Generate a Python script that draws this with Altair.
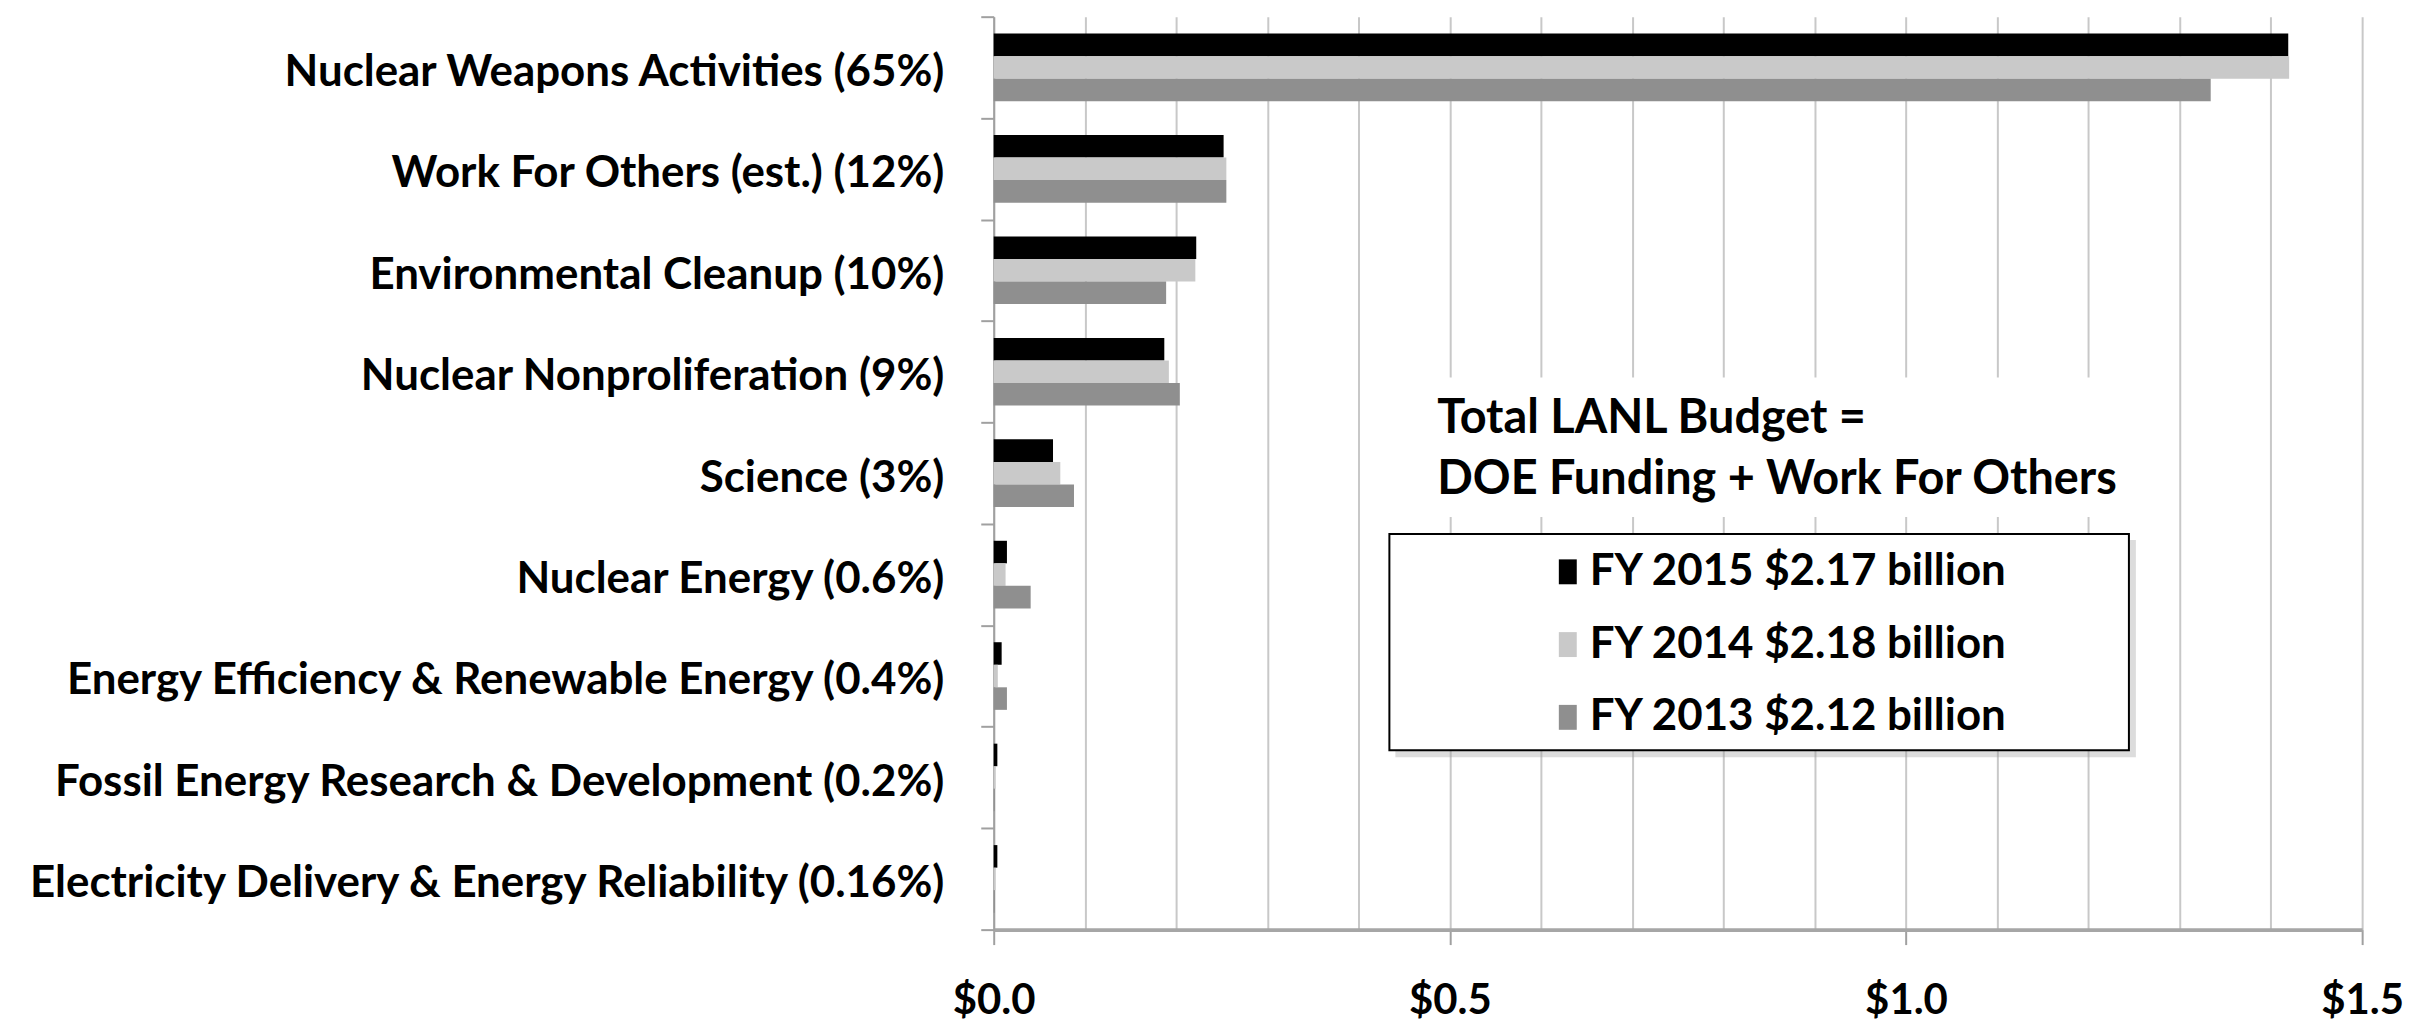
import altair as alt
import pandas as pd

categories = [
    "Nuclear Weapons Activities (65%)",
    "Work For Others (est.) (12%)\u00a0",
    "Environmental Cleanup (10%)",
    "Nuclear Nonproliferation (9%)",
    "Science (3%)",
    "Nuclear Energy (0.6%)",
    "Energy Efficiency & Renewable Energy (0.4%)",
    "Fossil Energy Research & Development (0.2%)",
    "Electricity Delivery & Energy Reliability (0.16%)",
]
series_names = ["FY 2015 $2.17 billion", "FY 2014 $2.18 billion", "FY 2013 $2.12 billion"]
fy2015 = [1.419, 0.252, 0.222, 0.187, 0.065, 0.0145, 0.0087, 0.004, 0.004]
fy2014 = [1.420, 0.255, 0.221, 0.192, 0.073, 0.013, 0.0045, 0.002, 0.002]
fy2013 = [1.334, 0.255, 0.189, 0.204, 0.088, 0.0405, 0.0145, 0.0012, 0.0012]
series_colors = ["#000000", "#c9c9c9", "#8f8f8f"]
grid_values = [round(i * 0.1, 1) for i in range(16)]
title_lines = ["Total LANL Budget =", "DOE Funding + Work For Others"]

FONT = "Lato, sans-serif"

rows = []
for name, vals in zip(series_names, [fy2015, fy2014, fy2013]):
    for c, v in zip(categories, vals):
        rows.append({"category": c, "series": name, "value": v})
df = pd.DataFrame(rows)

W, H = 1373, 916

bars = alt.Chart(df).mark_bar().encode(
    y=alt.Y(
        "category:N",
        sort=categories,
        title=None,
        scale=alt.Scale(paddingInner=0, paddingOuter=0),
        axis=alt.Axis(
            tickBand="extent",
            labelFont=FONT,
            labelFontSize=44,
            labelFontWeight="bold",
            labelColor="#000000",
            labelLimit=0,
            labelPadding=37,
            labelOffset=5,
            tickSize=13,
            tickWidth=2,
            tickColor="#a0a0a0",
            domainColor="#a0a0a0",
            domainWidth=2,
            grid=False,
        ),
    ),
    x=alt.X(
        "value:Q",
        title=None,
        scale=alt.Scale(domain=[0, 1.5], nice=False, zero=True),
        axis=alt.Axis(
            values=grid_values,
            labelExpr="abs(datum.value*2 - round(datum.value*2)) < 0.001 ? '$' + format(datum.value, '.1f') : ''",
            labelFont=FONT,
            labelFontSize=42,
            labelFontWeight="bold",
            labelColor="#000000",
            labelPadding=36,
            labelFlush=False,
            labelOverlap=False,
            tickSize=15,
            tickWidth=2,
            tickColor="#a0a0a0",
            tickOpacity={"condition": {"test": "abs(datum.value*2 - round(datum.value*2)) < 0.001", "value": 1}, "value": 0},
            domainColor="#a6a6a6",
            domainWidth=4,
            grid=True,
            gridColor="#c8c8c8",
            gridWidth=2,
        ),
    ),
    yOffset=alt.YOffset("series:N", sort=series_names, scale=alt.Scale(paddingOuter=0.75, paddingInner=0)),
    color=alt.Color(
        "series:N",
        sort=series_names,
        scale=alt.Scale(domain=series_names, range=series_colors),
        legend=alt.Legend(
            orient="none",
            legendX=554,
            legendY=535,
            title=None,
            labelFont=FONT,
            labelFontSize=44,
            labelFontWeight="bold",
            labelColor="#000000",
            symbolType="M-0.72,-1H0.72V1H-0.72Z",
            symbolSize=625,
            symbolStrokeWidth=0,
            rowPadding=29,
            labelOffset=0,
            labelLimit=0,
        ),
    ),
)

one = pd.DataFrame({"a": [0]})
box_shadow = alt.Chart(one).mark_rect(fill="#9a9a9a", opacity=0.35).encode(
    x=alt.value(403), x2=alt.value(1146), y=alt.value(525), y2=alt.value(743)
)
box = alt.Chart(one).mark_rect(fill="white", stroke="#000000", strokeWidth=2).encode(
    x=alt.value(397), x2=alt.value(1139), y=alt.value(519), y2=alt.value(736)
)
title_bg = alt.Chart(one).mark_rect(fill="white").encode(
    x=alt.value(428), x2=alt.value(1133), y=alt.value(362), y2=alt.value(502)
)
t1 = alt.Chart(pd.DataFrame({"t": [title_lines[0]]})).mark_text(
    align="left", baseline="middle", font=FONT, fontSize=47, fontWeight="bold", color="#000000"
).encode(text="t:N", x=alt.value(445), y=alt.value(404))
t2 = alt.Chart(pd.DataFrame({"t": [title_lines[1]]})).mark_text(
    align="left", baseline="middle", font=FONT, fontSize=47, fontWeight="bold", color="#000000"
).encode(text="t:N", x=alt.value(445), y=alt.value(465))

chart = alt.layer(bars, box_shadow, box, title_bg, t1, t2).properties(
    width=W,
    height=H,
    autosize=alt.AutoSizeParams(type="none"),
    padding={"left": 989, "top": 7, "right": 43, "bottom": 100},
    background="white",
).configure_view(stroke=None)

chart.save("out.html", embed_options={"renderer": "svg", "actions": False})
